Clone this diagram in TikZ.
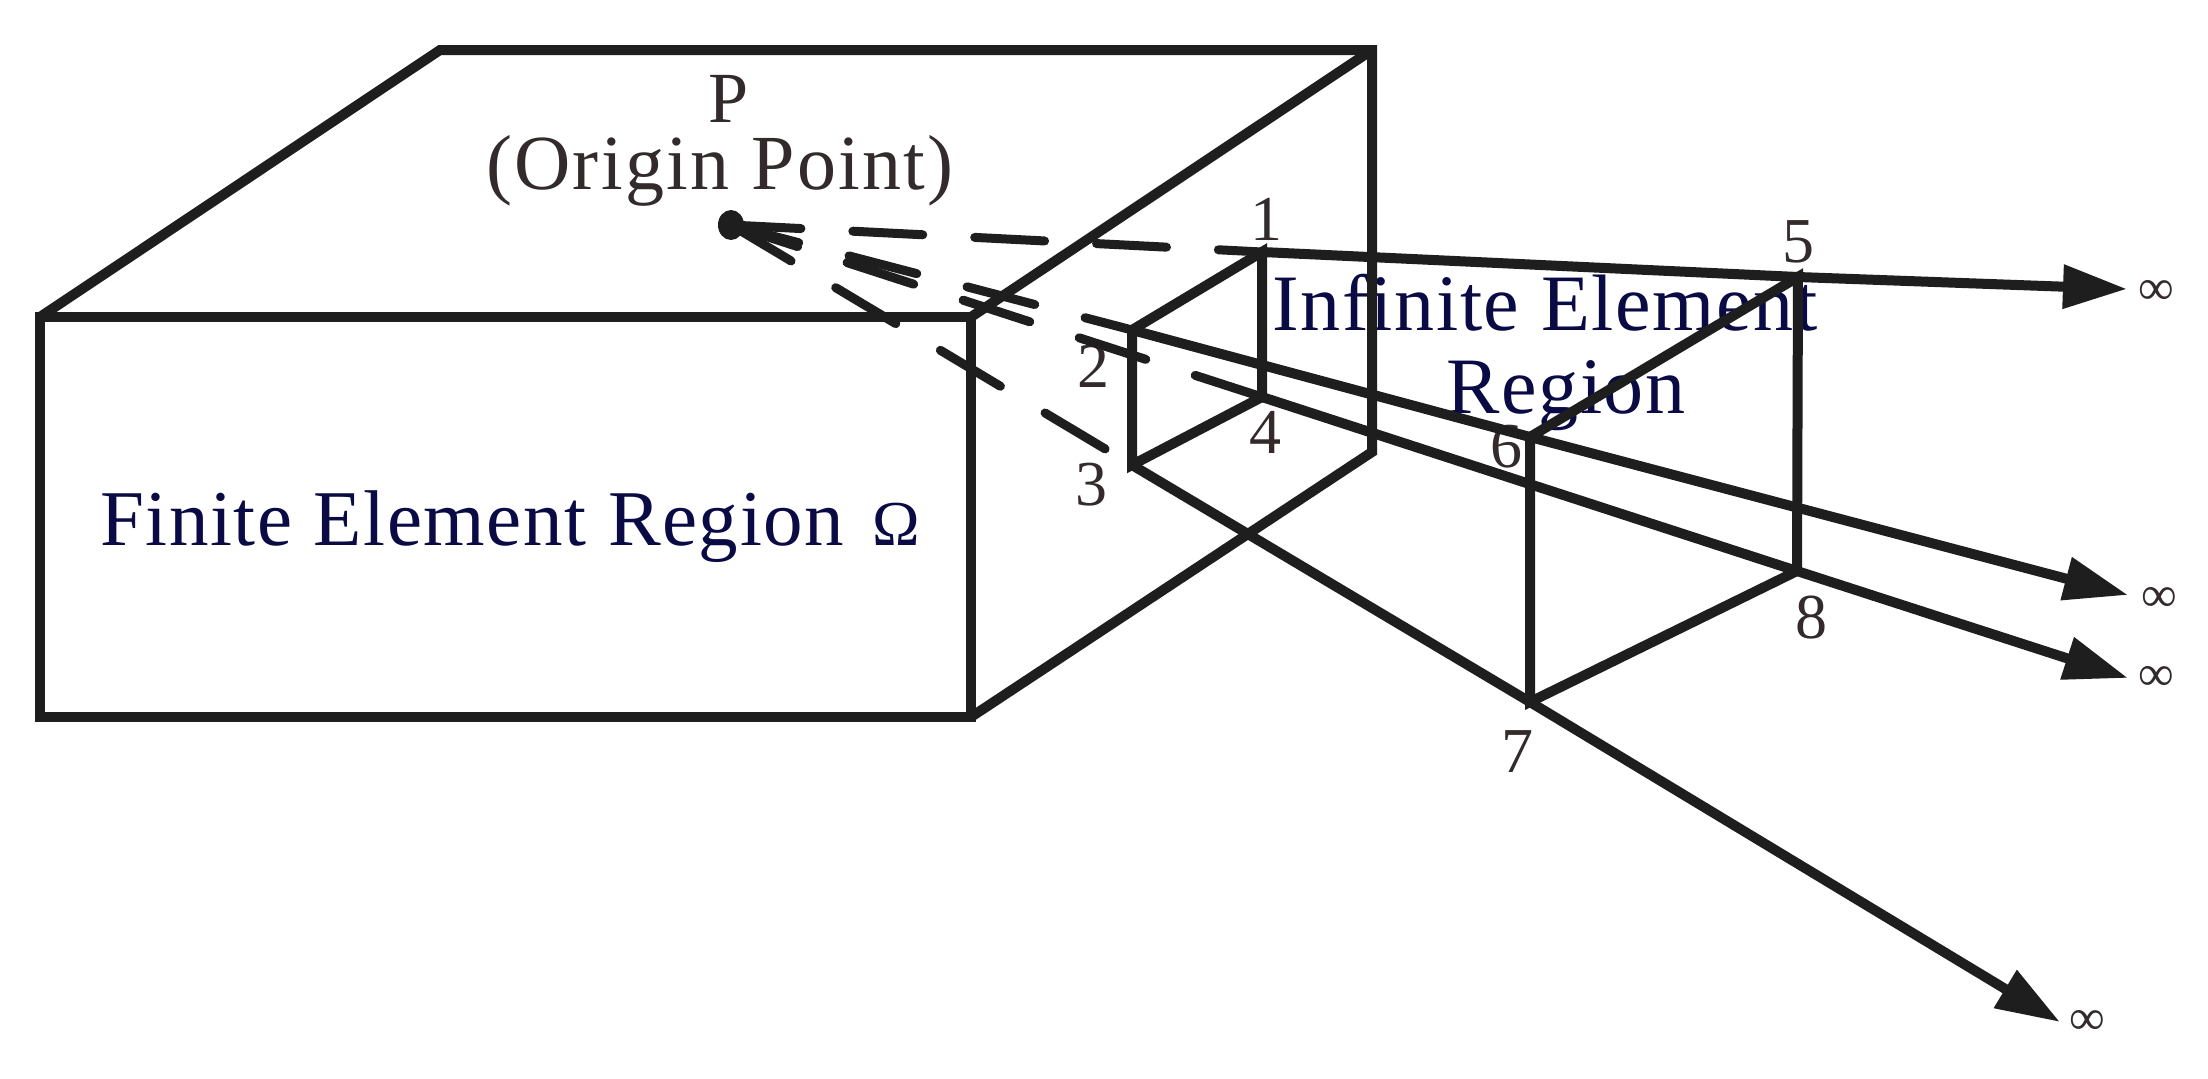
\documentclass[tikz,border=0pt]{standalone}
\usepackage{fontspec}
\setmainfont{Liberation Serif}
\newfontfamily\spacedA[LetterSpace=2]{Liberation Serif}
\newfontfamily\spacedB[LetterSpace=3]{Liberation Serif}
\usetikzlibrary{arrows.meta}
\definecolor{ink}{HTML}{1E1E1E}
\definecolor{navy}{HTML}{0A0A45}
\definecolor{umber}{HTML}{332B2B}
\tikzset{
  edge/.style={draw=ink,line width=5pt,line cap=round,line join=miter},
  ray/.style={draw=ink,line width=4.5pt,line cap=round,dash pattern=on 35pt off 26pt},
  farray/.style={edge,-{Triangle[length=32pt,width=21pt]}},
  region/.style={inner sep=0pt,anchor=base,text=navy,font=\fontsize{40pt}{40pt}\spacedA},
  origin/.style={inner sep=0pt,anchor=base,text=umber,font=\fontsize{39pt}{39pt}\spacedB},
  num/.style={inner sep=0pt,anchor=base,text=umber,font=\fontsize{32pt}{32pt}\selectfont},
  inf/.style={inner sep=0pt,text=umber,font=\fontsize{25pt}{25pt}\selectfont},
}
\begin{document}
\begin{tikzpicture}[x=0.5pt,y=-0.5pt]
\useasboundingbox[fill=white] (0,0) rectangle (2208,1078);
% texts
\node[region,font=\fontsize{39.5pt}{40pt}\spacedA] (tfin) at (510,545) {Finite Element Region\hspace{14pt}{\fontsize{32pt}{32pt}\selectfont Ω}};
\node[region] (tinf1) at (1545,330) {Infinite Element};
\node[region] (tinf2) at (1566,413) {Region};
\node[origin,font=\fontsize{36pt}{36pt}\spacedB] (tp) at (729,122) {P};
\node[origin] (tor) at (720,189) {(Origin Point)};
\node[num] (n1) at (1266,240) {1};
\node[num] (n2) at (1093,387) {2};
\node[num] (n3) at (1091,505) {3};
\node[num] (n4) at (1265,453) {4};
\node[num] (n5) at (1798,262) {5};
\node[num] (n6) at (1506,467) {6};
\node[num] (n7) at (1517,772) {7};
\node[num] (n8) at (1811,638) {8};
\node[inf] (i1) at (2156,292) {∞};
\node[inf] (i2) at (2159,599) {∞};
\node[inf] (i3) at (2156,678) {∞};
\node[inf] (i4) at (2087,1022) {∞};
% coordinates
\coordinate (fa) at (40,317);
\coordinate (fb) at (971,317);
\coordinate (fc) at (971,717);
\coordinate (fd) at (40,717);
\coordinate (ba) at (440,50);
\coordinate (bb) at (1372,50);
\coordinate (bc) at (1372,452);
\coordinate (P) at (731,225);
\coordinate (v1) at (1262,252);
\coordinate (v2) at (1132,330);
\coordinate (v3) at (1132,465);
\coordinate (v4) at (1262,397);
\coordinate (v5) at (1798,277);
\coordinate (v6) at (1530,437);
\coordinate (v7) at (1530,702);
\coordinate (v8) at (1797,571);
\coordinate (e1) at (2127,289);
\coordinate (e2) at (2128,595);
\coordinate (e3) at (2128,678);
\coordinate (e4) at (2060,1022);
% finite box
\draw[edge] (fa) -- (fb) -- (fc) -- (fd) -- cycle;
\draw[edge] (fa) -- (ba) -- (bb) -- (bc) -- (fc);
\draw[edge] (fb) -- (bb);
% origin and dashed rays
\fill[ink] (P) ellipse [x radius=13,y radius=15];
\draw[ray] (P) -- (v1);
\draw[ray] (P) -- (v2);
\draw[ray] (P) -- (v3);
\draw[ray] (P) -- (v4);
% infinite element
\draw[edge] (v1) -- (v2) -- (v3) -- (v4) -- cycle;
\draw[edge] (v5) -- (v6) -- (v7) -- (v8) -- cycle;
% rays to infinity
\draw[farray] (v1) -- (v5) -- (e1);
\draw[farray] (v2) -- (v6) -- (e2);
\draw[farray] (v3) -- (v7) -- (e4);
\draw[farray] (v4) -- (v8) -- (e3);
\end{tikzpicture}
\end{document}
